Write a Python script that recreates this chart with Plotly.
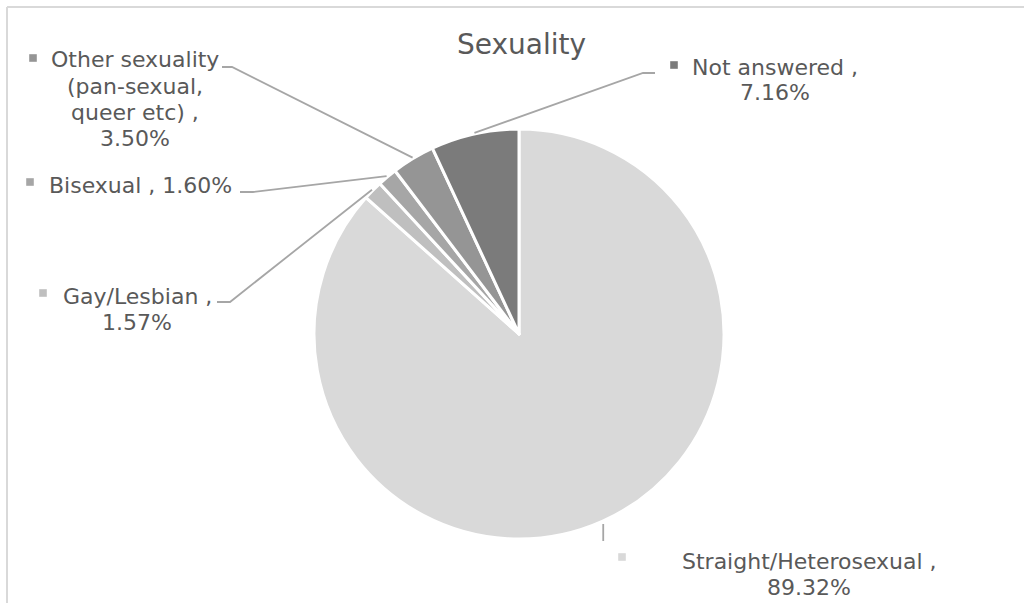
import math
import plotly.graph_objects as go

# ---- data ----
categories = ["Straight/Heterosexual", "Gay/Lesbian", "Bisexual",
              "Other sexuality (pan-sexual, queer etc)", "Not answered"]
values = [89.32, 1.57, 1.60, 3.50, 7.16]
label_lines = [["Straight/Heterosexual ,", "89.32%"],
               ["Gay/Lesbian ,", "1.57%"],
               ["Bisexual , 1.60%"],
               ["Other sexuality", "(pan-sexual,", "queer etc) ,", "3.50%"],
               ["Not answered ,", "7.16%"]]
colors = ["#d9d9d9", "#bfbfbf", "#a6a6a6", "#959595", "#7b7b7b"]

# ---- layout constants (pixels in a 1024x603 canvas) ----
W, H = 1024, 603
CX, CY, R = 519, 334, 205
LINE_GAP = 26


def px(x):
    return x / W


def py(y):
    return 1 - y / H


# label text-block centres, legend-key squares, and leader knees/ends
label_pos = [(809, 574), (137, 309), (140, 185), (135, 99), (775, 80)]
key_pos = [(622, 557), (43, 293), (30, 182), (33, 58), (674, 65)]
leader_knees = [None, [(230, 302), (217, 302)], [(253, 192), (240, 192)],
                [(232, 67), (222, 67)], [(643, 73), (655, 73)]]

fig = go.Figure()
fig.add_trace(go.Pie(
    values=values, labels=categories, sort=False, direction="clockwise",
    rotation=0, textinfo="none", hoverinfo="label+value",
    marker=dict(colors=colors, line=dict(color="white", width=3)),
    domain=dict(x=[px(CX - R), px(CX + R)], y=[py(CY + R), py(CY - R)]),
    showlegend=False,
))

shapes = []
annotations = []
total = sum(values)
cum = 0.0
for i, v in enumerate(values):
    mid = (cum + v / 2) / total * 2 * math.pi
    cum += v
    ex = CX + (R + 1) * math.sin(mid)
    ey = CY - (R + 1) * math.cos(mid)
    if leader_knees[i] is None:
        pts = [(ex, ey + 2), (ex, 541)]
    else:
        pts = [(ex, ey)] + leader_knees[i]
    path = "M " + " L ".join(f"{px(a):.5f},{py(b):.5f}" for a, b in pts)
    shapes.append(dict(type="path", xref="paper", yref="paper", path=path,
                       line=dict(color="#a6a6a6", width=1.8)))
    kx, ky = key_pos[i]
    shapes.append(dict(type="rect", xref="paper", yref="paper",
                       x0=px(kx - 3.8), x1=px(kx + 3.8),
                       y0=py(ky + 3.8), y1=py(ky - 3.8),
                       fillcolor=colors[i], line=dict(width=0)))
    lx, ly = label_pos[i]
    lines = label_lines[i]
    n = len(lines)
    for j, t in enumerate(lines):
        yy = ly + (j - (n - 1) / 2) * LINE_GAP
        annotations.append(dict(text=t, x=px(lx), y=py(yy),
                                xref="paper", yref="paper", showarrow=False,
                                xanchor="center", yanchor="middle",
                                font=dict(family="DejaVu Sans", size=22,
                                          color="#595959")))

# chart border (top and left visible)
shapes.append(dict(type="line", xref="paper", yref="paper",
                   x0=px(7), x1=1, y0=py(7), y1=py(7),
                   line=dict(color="#d9d9d9", width=2)))
shapes.append(dict(type="line", xref="paper", yref="paper",
                   x0=px(7), x1=px(7), y0=py(7), y1=0,
                   line=dict(color="#d9d9d9", width=2)))

annotations.append(dict(text="Sexuality", x=px(521), y=py(45),
                        xref="paper", yref="paper", showarrow=False,
                        xanchor="center", yanchor="middle",
                        font=dict(family="DejaVu Sans", size=28,
                                  color="#595959")))

fig.update_layout(
    width=W, height=H, margin=dict(l=0, r=0, t=0, b=0),
    paper_bgcolor="white", plot_bgcolor="white",
    shapes=shapes, annotations=annotations,
)

fig.write_html("out.html")
